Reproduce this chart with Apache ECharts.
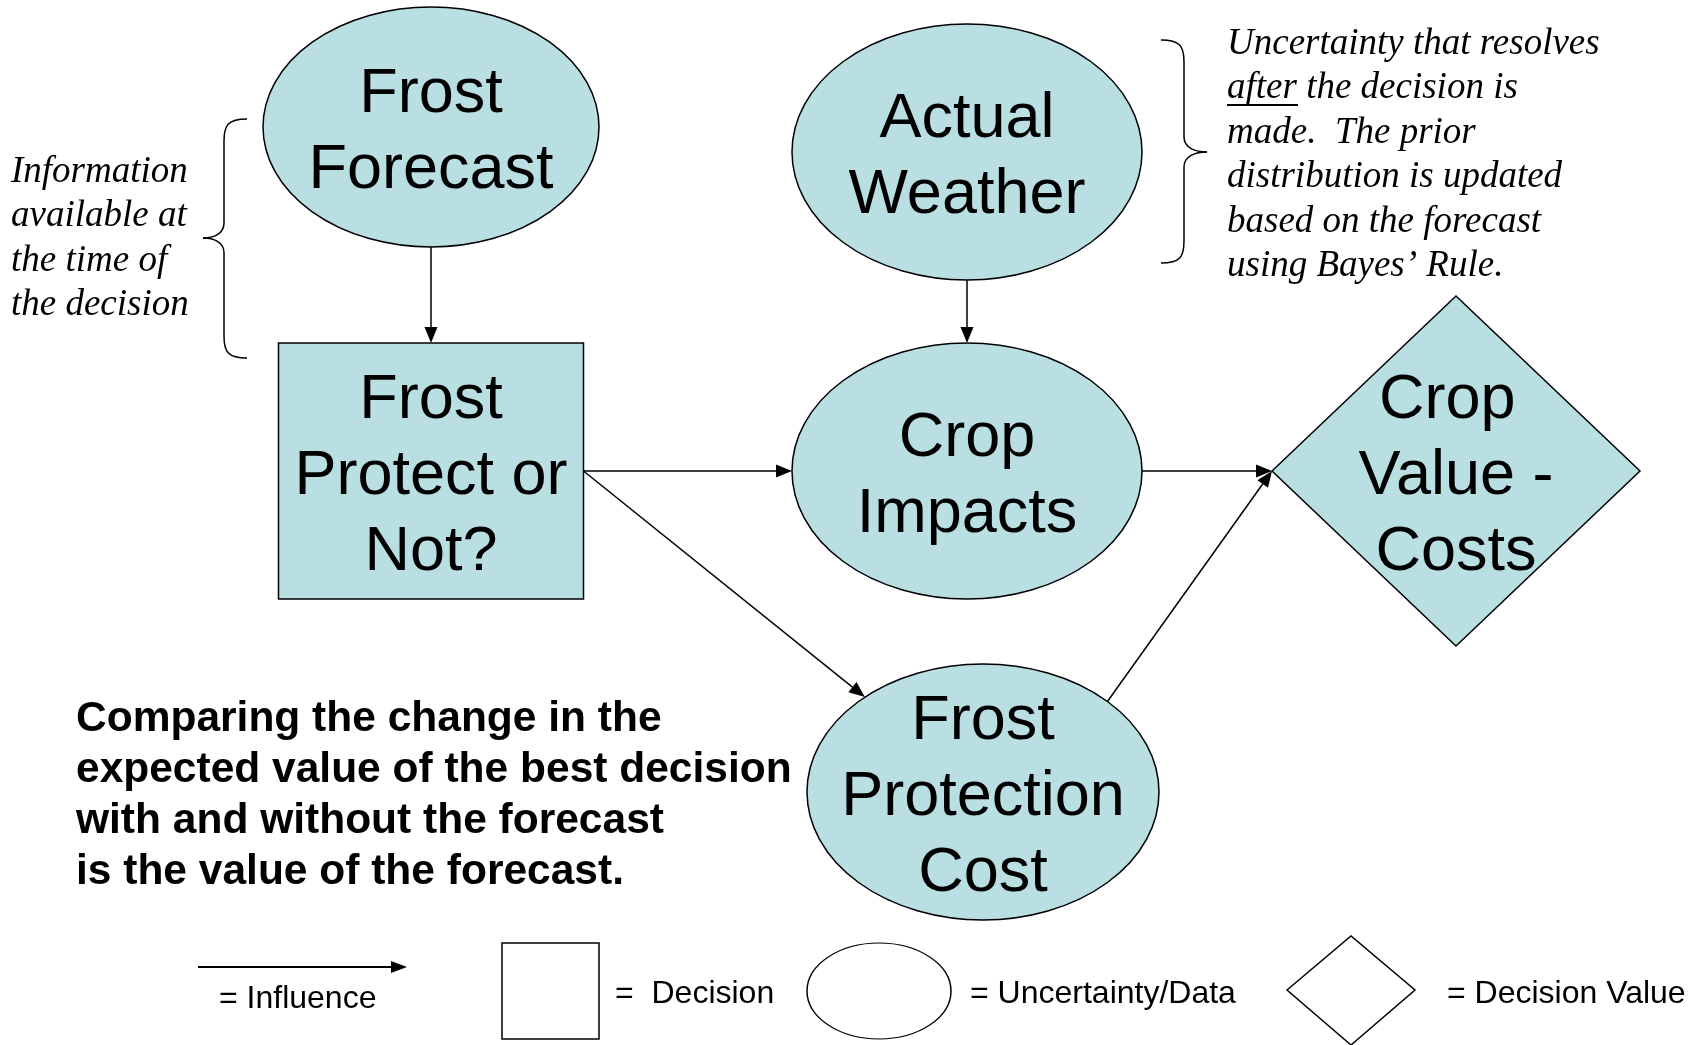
<!DOCTYPE html>
<html>
<head>
<meta charset="utf-8">
<script src="https://cdn.jsdelivr.net/npm/echarts@6/dist/echarts.min.js"></script>
<style>
  html, body { margin: 0; padding: 0; background: #fff; }
  #main { width: 1698px; height: 1045px; }
</style>
</head>
<body>
<div id="main"></div>
<script>
// influence diagram nodes
const nodeNames = ['Frost\nForecast', 'Actual\nWeather', 'Frost\nProtect or\nNot?', 'Crop\nImpacts', 'Frost\nProtection\nCost', 'Crop \nValue -\nCosts'];
const nodeKinds = ['uncertainty', 'uncertainty', 'decision', 'uncertainty', 'uncertainty', 'value'];
const nodeX = [431, 967, 431, 967, 983, 1456];
const nodeY = [127, 152, 471, 471, 792, 471];
const nodeW = [336, 350, 305, 350, 352, 368];
const nodeH = [240, 256, 256, 256, 256, 350];

// influence arrows
const edgeFrom = [0, 1, 2, 2, 3, 4];
const edgeTo = [2, 3, 3, 4, 5, 5];
const edgeStart = ['bottom', 'bottom', 'right', 'right', 'right', 45];
const edgeEnd = ['top', 'top', 'left', 'auto', 'left', 'left'];

const FILL = '#badfe2';
const LINE = { stroke: '#000', lineWidth: 1.5, fill: null };
const chart = echarts.init(document.getElementById('main'));

function ellipsePath(cx, cy, rx, ry) {
  return 'M' + (cx - rx) + ' ' + cy +
    ' A' + rx + ' ' + ry + ' 0 1 0 ' + (cx + rx) + ' ' + cy +
    ' A' + rx + ' ' + ry + ' 0 1 0 ' + (cx - rx) + ' ' + cy + ' Z';
}

function anchor(i, spec, api, toward) {
  const c = api.coord([nodeX[i], nodeY[i]]);
  const s = api.size([nodeW[i], nodeH[i]]);
  const rx = s[0] / 2, ry = s[1] / 2;
  if (spec === 'top') return [c[0], c[1] - ry];
  if (spec === 'bottom') return [c[0], c[1] + ry];
  if (spec === 'left') return [c[0] - rx, c[1]];
  if (spec === 'right') return [c[0] + rx, c[1]];
  if (typeof spec === 'number') {
    const a = spec * Math.PI / 180;
    return [c[0] + rx * Math.cos(a), c[1] - ry * Math.sin(a)];
  }
  const dx = toward[0] - c[0], dy = toward[1] - c[1];
  const t = 1 / Math.sqrt((dx / rx) * (dx / rx) + (dy / ry) * (dy / ry));
  return [c[0] + dx * t, c[1] + dy * t];
}

function arrowHead(p1, p2, len, half) {
  const dx = p2[0] - p1[0], dy = p2[1] - p1[1];
  const d = Math.sqrt(dx * dx + dy * dy);
  const ux = dx / d, uy = dy / d;
  const bx = p2[0] - ux * len, by = p2[1] - uy * len;
  return {
    base: [bx, by],
    pts: [p2, [bx - uy * half, by + ux * half], [bx + uy * half, by - ux * half]]
  };
}

// curly brace: x = spine, tipX = point, top/bottom ends at endX
function brace(endX, x, tipX, top, mid, bottom) {
  const k = endX > x ? 1 : -1;
  return [
    { type: 'bezierCurve', shape: { x1: endX, y1: top, cpx1: x + k * 4, cpy1: top, cpx2: x, cpy2: top + 6, x2: x, y2: top + 22 }, style: LINE },
    { type: 'line', shape: { x1: x, y1: top + 22, x2: x, y2: mid - 15 }, style: LINE },
    { type: 'bezierCurve', shape: { x1: x, y1: mid - 15, cpx1: x, cpy1: mid - 4, cpx2: tipX + (x - tipX) * 0.5, cpy2: mid, x2: tipX, y2: mid }, style: LINE },
    { type: 'bezierCurve', shape: { x1: tipX, y1: mid, cpx1: tipX + (x - tipX) * 0.5, cpy1: mid, cpx2: x, cpy2: mid + 4, x2: x, y2: mid + 15 }, style: LINE },
    { type: 'line', shape: { x1: x, y1: mid + 15, x2: x, y2: bottom - 22 }, style: LINE },
    { type: 'bezierCurve', shape: { x1: x, y1: bottom - 22, cpx1: x, cpy1: bottom - 6, cpx2: x + k * 4, cpy2: bottom, x2: endX, y2: bottom }, style: LINE }
  ];
}

const legendFont = '32px "Liberation Sans", Arial, sans-serif';
const noteFont = 'italic 37px "Liberation Serif", "Times New Roman", serif';

const option = {
  animation: false,
  grid: { left: 0, right: 0, top: 0, bottom: 0 },
  xAxis: { type: 'value', min: 0, max: 1698, show: false },
  yAxis: { type: 'value', min: 0, max: 1045, inverse: true, show: false },
  series: [
    {
      type: 'custom',
      clip: false,
      data: nodeX.map((x, i) => [x, nodeY[i], nodeW[i], nodeH[i]]),
      renderItem(params, api) {
        const i = params.dataIndex;
        const c = api.coord([api.value(0), api.value(1)]);
        const s = api.size([api.value(2), api.value(3)]);
        const style = { fill: FILL, stroke: '#000', lineWidth: 1.5 };
        let shape;
        if (nodeKinds[i] === 'decision') {
          shape = { type: 'rect', shape: { x: c[0] - s[0] / 2, y: c[1] - s[1] / 2, width: s[0], height: s[1] }, style };
        } else if (nodeKinds[i] === 'value') {
          shape = { type: 'polygon', shape: { points: [[c[0] - s[0] / 2, c[1]], [c[0], c[1] - s[1] / 2], [c[0] + s[0] / 2, c[1]], [c[0], c[1] + s[1] / 2]] }, style };
        } else {
          shape = { type: 'path', shape: { pathData: ellipsePath(c[0], c[1], s[0] / 2, s[1] / 2) }, style };
        }
        return {
          type: 'group',
          children: [shape, {
            type: 'text',
            style: {
              text: nodeNames[i], x: c[0], y: c[1] + 6,
              align: 'center', verticalAlign: 'middle',
              font: '63px "Liberation Sans", Arial, sans-serif',
              lineHeight: 76, fill: '#000'
            }
          }]
        };
      }
    },
    {
      type: 'custom',
      clip: false,
      data: edgeFrom.map((f, i) => [nodeX[f], nodeY[f], nodeX[edgeTo[i]], nodeY[edgeTo[i]]]),
      renderItem(params, api) {
        const i = params.dataIndex;
        const tc = api.coord([api.value(2), api.value(3)]);
        const p1 = anchor(edgeFrom[i], edgeStart[i], api, tc);
        const p2 = anchor(edgeTo[i], edgeEnd[i], api, p1);
        const h = arrowHead(p1, p2, 16, 6.5);
        return {
          type: 'group',
          children: [
            { type: 'line', shape: { x1: p1[0], y1: p1[1], x2: h.base[0], y2: h.base[1] }, style: { stroke: '#000', lineWidth: 1.5 } },
            { type: 'polygon', shape: { points: h.pts }, style: { fill: '#000' } }
          ]
        };
      }
    }
  ],
  graphic: [].concat(
    brace(247, 224, 203, 119, 238, 358),
    brace(1161, 1184, 1207, 40, 152, 263),
    [
      {
        type: 'text',
        style: {
          text: 'Information\navailable at\nthe time of\nthe decision',
          x: 11, y: 150, align: 'left', verticalAlign: 'top',
          font: noteFont, lineHeight: 44.4, fill: '#000'
        }
      },
      {
        type: 'text',
        style: {
          text: 'Uncertainty that resolves\nafter the decision is\nmade.  The prior\ndistribution is updated\nbased on the forecast\nusing Bayes\u2019 Rule.',
          x: 1227, y: 22, align: 'left', verticalAlign: 'top',
          font: noteFont, lineHeight: 44.4, fill: '#000'
        }
      },
      { type: 'line', shape: { x1: 1227, y1: 105, x2: 1298, y2: 105 }, style: { stroke: '#000', lineWidth: 2 } },
      {
        type: 'text',
        style: {
          text: 'Comparing the change in the\nexpected value of the best decision\nwith and without the forecast\nis the value of the forecast.',
          x: 76, y: 694, align: 'left', verticalAlign: 'top',
          font: 'bold 42.5px "Liberation Sans", Arial, sans-serif',
          lineHeight: 51, fill: '#000'
        }
      },
      // legend
      { type: 'line', shape: { x1: 198, y1: 967, x2: 392, y2: 967 }, style: { stroke: '#000', lineWidth: 2 } },
      { type: 'polygon', shape: { points: [[407, 967], [391, 961], [391, 973]] }, style: { fill: '#000' } },
      { type: 'text', style: { text: '= Influence', x: 219, y: 999, verticalAlign: 'middle', font: legendFont, fill: '#000' } },
      { type: 'rect', shape: { x: 502, y: 943, width: 97, height: 96 }, style: { fill: '#fff', stroke: '#000', lineWidth: 1.5 } },
      { type: 'text', style: { text: '=  Decision', x: 615, y: 994, verticalAlign: 'middle', font: legendFont, fill: '#000' } },
      { type: 'circle', x: 879, y: 991, scaleY: 48 / 72, shape: { cx: 0, cy: 0, r: 72 }, style: { fill: '#fff', stroke: '#000', lineWidth: 1.5, strokeNoScale: true } },
      { type: 'text', style: { text: '= Uncertainty/Data', x: 970, y: 994, verticalAlign: 'middle', font: legendFont, fill: '#000' } },
      { type: 'polygon', shape: { points: [[1287, 990], [1351, 936], [1415, 990], [1351, 1045]] }, style: { fill: '#fff', stroke: '#000', lineWidth: 1.5 } },
      { type: 'text', style: { text: '= Decision Value', x: 1447, y: 994, verticalAlign: 'middle', font: legendFont, fill: '#000' } }
    ]
  )
};

chart.setOption(option);
</script>
</body>
</html>
